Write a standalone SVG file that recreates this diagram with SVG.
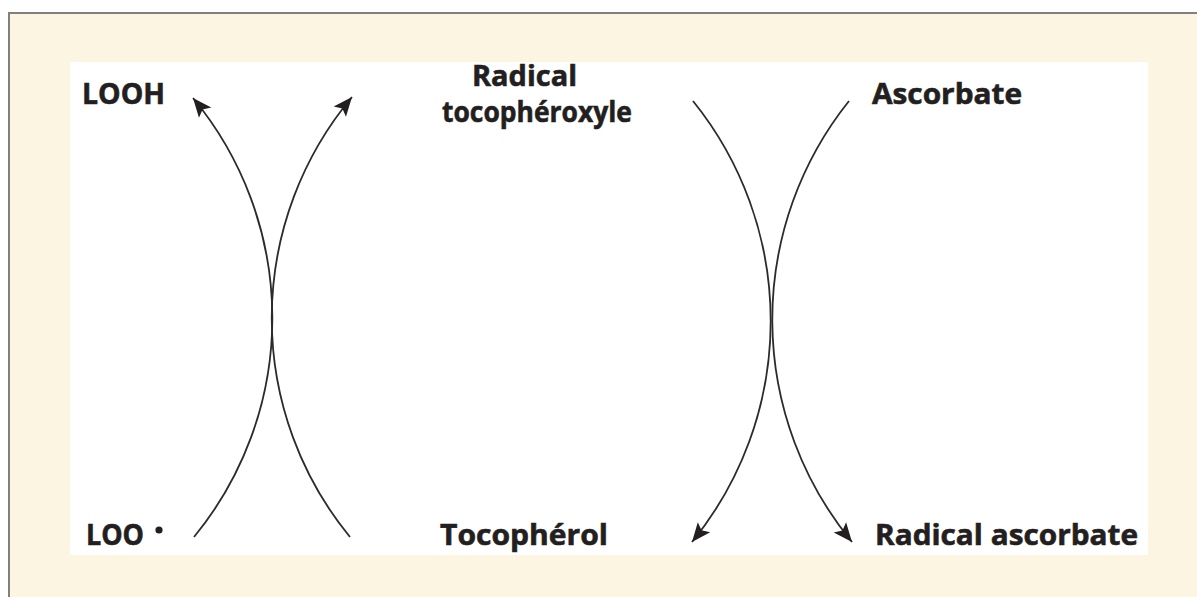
<svg xmlns="http://www.w3.org/2000/svg" width="1197" height="597" viewBox="0 0 1197 597">
<style>
.lbl{font-family:"Open Sans","Noto Sans","Liberation Sans",sans-serif;font-weight:700;font-size:29px;fill:#231F20;stroke:#231F20;stroke-width:0.6}
.arc{fill:none;stroke:#2b2b2b;stroke-width:1.8}
</style>
<defs>
<marker id="ah" markerUnits="userSpaceOnUse" markerWidth="24" markerHeight="20" viewBox="0 0 24 20" refX="20" refY="9" orient="auto">
<path d="M1,1 L20,9 L1,17 L5,9 Z" fill="#231F20"/>
</marker>
</defs>
<rect x="9" y="13" width="1200" height="600" fill="#FCF5E2" stroke="#808080" stroke-width="2"/>
<rect x="70" y="62" width="1078" height="493" fill="#FFFFFF"/>
<g id="connectors">
<path class="arc" d="M194,537 A345,345 0 0 0 193,98" marker-end="url(#ah)"/>
<path class="arc" d="M350,537 A345,345 0 0 1 352,97" marker-end="url(#ah)"/>
<path class="arc" d="M693,101 A350,350 0 0 1 692,542" marker-end="url(#ah)"/>
<path class="arc" d="M849,101 A350,350 0 0 0 852,542" marker-end="url(#ah)"/>
</g>
<g id="node-looh"><text class="lbl" x="82" y="104" textLength="83" lengthAdjust="spacingAndGlyphs">LOOH</text></g>
<g id="node-radical-tocopheroxyle">
<text class="lbl" x="472" y="86" textLength="105" lengthAdjust="spacingAndGlyphs">Radical</text>
<text class="lbl" x="442" y="122" textLength="190" lengthAdjust="spacingAndGlyphs">tocophéroxyle</text>
</g>
<g id="node-ascorbate"><text class="lbl" x="872" y="104" textLength="150" lengthAdjust="spacingAndGlyphs">Ascorbate</text></g>
<g id="node-loo"><text class="lbl" x="86" y="545" textLength="58" lengthAdjust="spacingAndGlyphs">LOO</text><circle cx="159" cy="530" r="3.6" fill="#231F20"/></g>
<g id="node-tocopherol"><text class="lbl" x="440" y="545" textLength="168" lengthAdjust="spacingAndGlyphs">Tocophérol</text></g>
<g id="node-radical-ascorbate"><text class="lbl" x="875" y="545" textLength="263" lengthAdjust="spacingAndGlyphs">Radical ascorbate</text></g>
</svg>
